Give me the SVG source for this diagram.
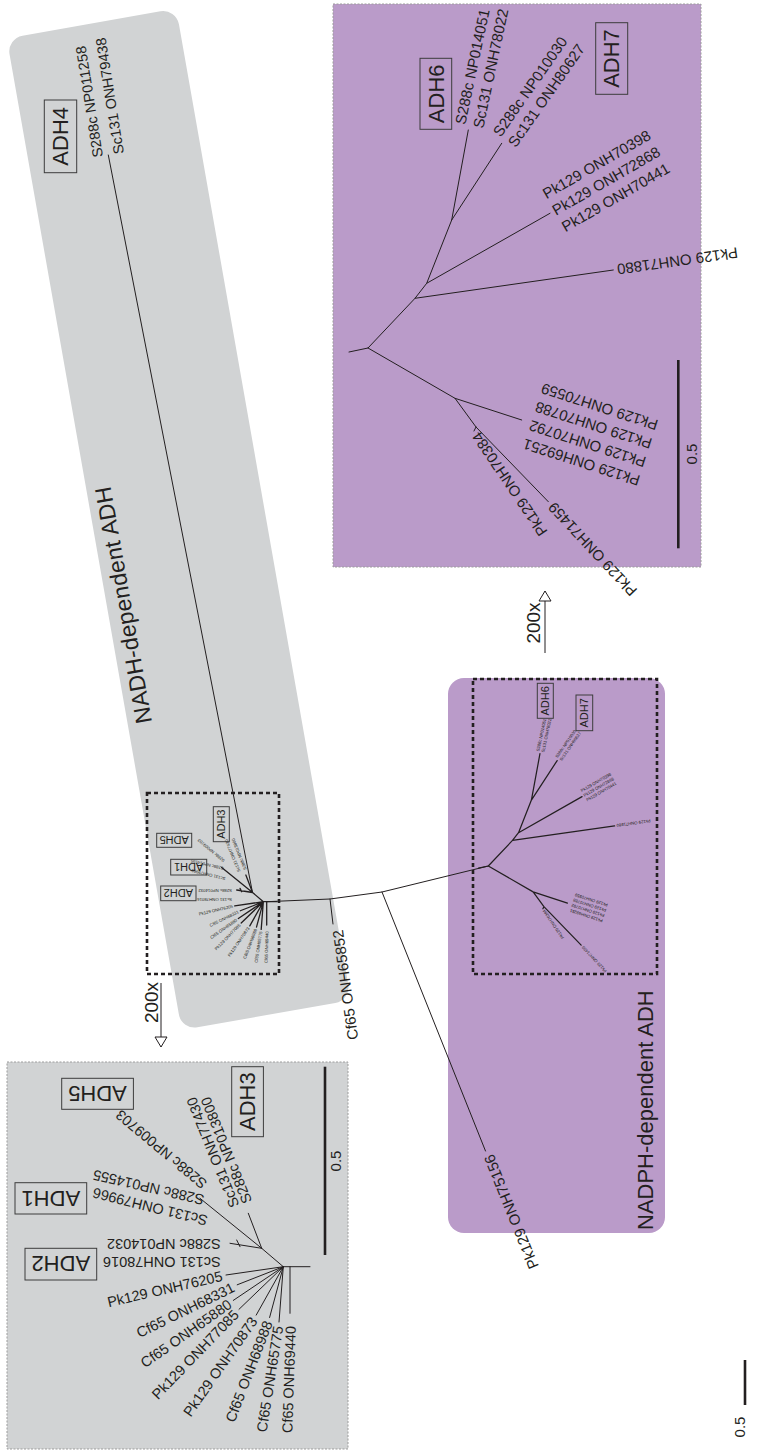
<svg xmlns="http://www.w3.org/2000/svg" width="759" height="1451" viewBox="0 0 759 1451">
<style>
.lbl{font-family:"Liberation Sans",Arial,sans-serif;fill:#231f20}
.e{text-anchor:end}
.m{text-anchor:middle}
.br{fill:none;stroke:#231f20;stroke-linecap:round;stroke-linejoin:round}
.box{fill:none;stroke:#3c3c3c;stroke-width:1}
.adh{font-family:"Liberation Sans",Arial,sans-serif;fill:#231f20;text-anchor:middle}
.sbar{stroke:#231f20;stroke-width:2.6}
.frame{fill:none;stroke:#231f20;stroke-width:2.6;stroke-dasharray:4 3}
.zbox{stroke:#9d9d9d;stroke-width:1;stroke-dasharray:2 1.5}
.grey{fill:#d1d3d4}
.purple{fill:#ba9bc9}
</style>
<defs>
<marker id="openHead" markerUnits="userSpaceOnUse" markerWidth="12" markerHeight="14" refX="11" refY="7" orient="auto" viewBox="0 0 12 14">
<path d="M1,1 L11,7 L1,13 Z" fill="#fff" stroke="#231f20" stroke-width="1"/>
</marker>
<path id="ptree" class="br" d="M349,352L368,348L415,298.3L426.7,283.3L451.7,220L468.3,130M451.7,220L501.7,143.3M426.7,283.3L550,213.3M415,298.3L613.3,270M368,348L455,398.3L521.7,420M455,398.3L476,427L548.3,501.7M476,427L474,431"/>
<g id="plab" class="lbl">
<text transform="translate(468.3,130) rotate(-78)"><tspan x="4" dy="-0.27em">S288c NP014051</tspan><tspan x="4" dy="1.23em">Sc131 ONH78022</tspan></text>
<text transform="translate(501.7,143.3) rotate(-55)"><tspan x="4" dy="-0.27em">S288c NP010030</tspan><tspan x="4" dy="1.23em">Sc131 ONH80627</tspan></text>
<text transform="translate(550,213.3) rotate(-30)"><tspan x="4" dy="-0.92em">Pk129 ONH70398</tspan><tspan x="4" dy="1.27em">Pk129 ONH72868</tspan><tspan x="4" dy="1.27em">Pk129 ONH70441</tspan></text>
<text class="e" transform="translate(613.3,270) rotate(172)" x="-4" dy=".35em">Pk129 ONH71880</text>
<text class="e" transform="translate(521.7,420) rotate(-162)"><tspan x="-9" dy="-1.1em">Pk129 ONH69251</tspan><tspan x="-9" dy="1.3em">Pk129 ONH70792</tspan><tspan x="-9" dy="1.3em">Pk129 ONH70788</tspan><tspan x="-9" dy="1.3em">Pk129 ONH70559</tspan></text>
<text class="e" transform="translate(474,431) rotate(-124)" x="-3" dy=".35em">Pk129 ONH70384</text>
<text class="e" transform="translate(548.3,501.7) rotate(-133)" x="-4" dy=".35em">Pk129 ONH71459</text>
</g>
<path id="gtree" class="br" d="M310,1266.7L283.3,1266.7M290,1266.7L290,1313.3M283.3,1266.7L226,1275M283.3,1266.7L237.2,1284.8M283.3,1266.7L233.3,1300.4M283.3,1266.7L239,1309.3M283.3,1266.7L256.2,1315.1M283.3,1266.7L269.6,1317.5M283.3,1266.7L279,1322M283.3,1266.7L261.7,1248.3L200,1198.3M261.7,1248.3L230,1243.3M236.7,1240L240,1246.7M261.7,1248.3L248.3,1213.3"/>
<g id="glab" class="lbl">
<text transform="translate(220.7,1244) rotate(180)" dy=".35em">S288c NP014032</text>
<text transform="translate(220.7,1261.7) rotate(180)" dy=".35em">Sc131 ONH78016</text>
<text transform="translate(207.2,1221) rotate(-166)" dy=".35em">Sc131 ONH79966</text>
<text transform="translate(203.9,1200.2) rotate(-167)" dy=".35em">S288c NP014555</text>
<text transform="translate(204.8,1185.9) rotate(-140)" dy=".35em">S288c NP009703</text>
<text transform="translate(234.8,1207) rotate(-112)" dy=".35em">Sc131 ONH77430</text>
<text transform="translate(247.5,1203) rotate(-112)" dy=".35em">S288c NP013800</text>
<text class="e" transform="translate(222.2,1275.8) rotate(-13)" dy=".35em">Pk129 ONH76205</text>
<text class="e" transform="translate(233.6,1286.5) rotate(-26)" dy=".35em">Cf65 ONH68331</text>
<text class="e" transform="translate(230,1302.7) rotate(-35)" dy=".35em">Cf65 ONH65880</text>
<text class="e" transform="translate(236.1,1312.1) rotate(-46)" dy=".35em">Pk129 ONH77085</text>
<text class="e" transform="translate(254,1318.4) rotate(-55)" dy=".35em">Pk129 ONH70873</text>
<text class="e" transform="translate(268.1,1321.3) rotate(-69)" dy=".35em">Cf65 ONH68988</text>
<text class="e" transform="translate(278.3,1326) rotate(-81)" dy=".35em">Cf65 ONH65775</text>
<text class="e" transform="translate(290.8,1326) rotate(-88)" dy=".35em">Cf65 ONH69440</text>
</g>
</defs>

<g id="nadh-band">
<rect class="grey" x="0" y="39" width="172" height="1007" rx="16" transform="rotate(-10)"/>
<text class="lbl" font-size="23" textLength="240" lengthAdjust="spacing" transform="translate(152,722) rotate(-100)">NADH-dependent ADH</text>
</g>

<g id="nadph-band">
<rect class="purple" x="448" y="678" width="217" height="555" rx="16"/>
<text class="lbl" font-size="22" transform="translate(653,1230) rotate(-90)">NADPH-dependent ADH</text>
</g>

<g id="connectors" stroke-width="1">
<path class="br" d="M108.3,155L252.5,892.5"/>
<path class="br" d="M266.7,901.7L330,899L382,892L488.3,866"/>
<path class="br" d="M330,899L333,924"/>
<path class="br" d="M382,892L485.5,1151"/>
</g>

<g id="adh4">
<text class="lbl" font-size="14.5" transform="translate(98.1,157.3) rotate(-99)" dy=".35em">S288c NP011258</text>
<text class="lbl" font-size="14.5" transform="translate(118.9,154) rotate(-99)" dy=".35em">Sc131 ONH79438</text>
<rect class="box" x="44.3" y="100" width="32.4" height="72.7"/>
<text class="adh" font-size="22" transform="translate(60.5,136.3) rotate(-90)" dy=".35em">ADH4</text>
</g>

<g id="cf65-onh65852">
<text class="lbl e" font-size="15" transform="translate(337.7,930) rotate(-98)" dy=".35em">Cf65 ONH65852</text>
</g>

<g id="pk129-onh75156">
<text class="lbl e" font-size="15" transform="translate(488.5,1155.3) rotate(-112)" dy=".35em">Pk129 ONH75156</text>
</g>

<g id="nadh-small-tree">
<use href="#gtree" transform="translate(266.7,901.7) scale(0.5) translate(-290,-1266.7)" stroke-width="2.6"/>
<use href="#glab" transform="translate(266.7,901.7) scale(0.5) translate(-290,-1266.7)" font-size="8.6"/>
<rect class="box" x="213.3" y="806.7" width="16" height="35"/>
<text class="adh" font-size="11" transform="translate(221.3,824.2) rotate(-90)" dy=".35em">ADH3</text>
<rect class="box" x="156.7" y="833.3" width="35" height="14"/>
<text class="adh" font-size="11" transform="translate(174.2,840.3) rotate(180)" dy=".35em">ADH5</text>
<rect class="box" x="170.7" y="859.3" width="36" height="15.7"/>
<text class="adh" font-size="11" transform="translate(188.7,867.2) rotate(180)" dy=".35em">ADH1</text>
<rect class="box" x="160.7" y="886" width="35.3" height="14.7"/>
<text class="adh" font-size="11" transform="translate(178.3,893.3) rotate(180)" dy=".35em">ADH2</text>
<rect class="frame" x="147" y="793" width="132" height="181"/>
</g>

<g id="nadph-small-tree">
<use href="#ptree" transform="translate(488.3,866) scale(0.515) translate(-368,-348)" stroke-width="2.4"/>
<use href="#plab" transform="translate(488.3,866) scale(0.515) translate(-368,-348)" font-size="8.2"/>
<rect class="box" x="537.3" y="683.3" width="16" height="35"/>
<text class="adh" font-size="11" transform="translate(545.3,700.8) rotate(-90)" dy=".35em">ADH6</text>
<rect class="box" x="576" y="695" width="16.7" height="35.7"/>
<text class="adh" font-size="11" transform="translate(584.3,712.8) rotate(-90)" dy=".35em">ADH7</text>
<rect class="frame" x="473" y="679" width="184" height="295"/>
</g>

<g id="zoom-nadh">
<rect class="grey zbox" x="7" y="1062" width="341" height="387"/>
<use href="#gtree" stroke-width="1"/>
<use href="#glab" font-size="14.5"/>
<rect class="box" x="231.7" y="1066.7" width="31.7" height="70"/>
<text class="adh" font-size="22" transform="translate(247.5,1101.7) rotate(-90)" dy=".35em">ADH3</text>
<rect class="box" x="61.7" y="1078.3" width="71.7" height="31"/>
<text class="adh" font-size="22" transform="translate(97.5,1093.8) rotate(180)" dy=".35em">ADH5</text>
<rect class="box" x="15" y="1182.7" width="71.7" height="31.3"/>
<text class="adh" font-size="22" transform="translate(50.8,1198.3) rotate(180)" dy=".35em">ADH1</text>
<rect class="box" x="25" y="1248.3" width="71.7" height="31.7"/>
<text class="adh" font-size="22" transform="translate(60.8,1264.2) rotate(180)" dy=".35em">ADH2</text>
<line class="sbar" x1="325" y1="1066.7" x2="325" y2="1255"/>
<text class="lbl m" font-size="15" transform="translate(341,1161) rotate(-90)">0.5</text>
</g>

<g id="zoom-nadph">
<rect class="purple zbox" x="333" y="4" width="368" height="563"/>
<use href="#ptree" stroke-width="1"/>
<use href="#plab" font-size="15"/>
<rect class="box" x="420" y="58.3" width="31.7" height="71"/>
<text class="adh" font-size="22" transform="translate(435.8,93.8) rotate(-90)" dy=".35em">ADH6</text>
<rect class="box" x="595.7" y="22.7" width="32" height="71.6"/>
<text class="adh" font-size="22" transform="translate(611.7,58.5) rotate(-90)" dy=".35em">ADH7</text>
<line class="sbar" x1="678.3" y1="360" x2="678.3" y2="548.3"/>
<text class="lbl m" font-size="15" transform="translate(697,454) rotate(-90)">0.5</text>
</g>

<g id="zoom-arrows">
<line x1="161" y1="983" x2="161" y2="1047" stroke="#231f20" stroke-width="1" marker-end="url(#openHead)"/>
<text class="lbl m" font-size="19" transform="translate(158,1002.5) rotate(-90)">200x</text>
<line x1="545" y1="653" x2="545" y2="591" stroke="#231f20" stroke-width="1" marker-end="url(#openHead)"/>
<text class="lbl m" font-size="19" transform="translate(540,623) rotate(-90)">200x</text>
</g>

<g id="scale-bar">
<line class="sbar" x1="745" y1="1360" x2="745" y2="1405"/>
<text class="lbl m" font-size="15" transform="translate(745,1427) rotate(-90)">0.5</text>
</g>
</svg>
